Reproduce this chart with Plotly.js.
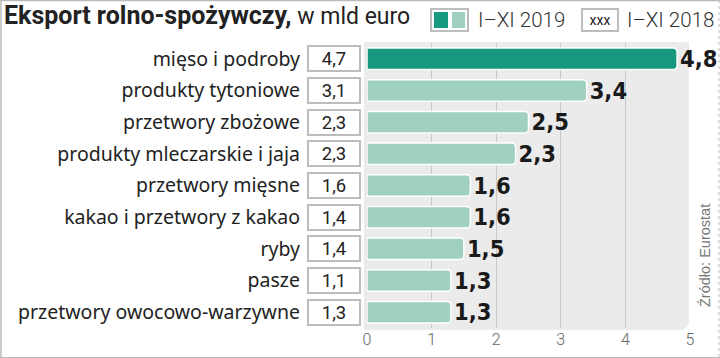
<!DOCTYPE html>
<html><head><meta charset="utf-8">
<script src="https://cdn.plot.ly/plotly-3.0.1.min.js"></script>
<style>html,body{margin:0;padding:0;background:#fff}#chart{width:720px;height:358px}</style>
</head><body><div id="chart"></div>
<script>
const categories = ["mięso i podroby","produkty tytoniowe","przetwory zbożowe","produkty mleczarskie i jaja","przetwory mięsne","kakao i przetwory z kakao","ryby","pasze","przetwory owocowo-warzywne"];
const values2019 = [4.8,3.4,2.5,2.3,1.6,1.6,1.5,1.3,1.3];
const values2018 = [4.7,3.1,2.3,2.3,1.6,1.4,1.4,1.1,1.3];
const xTicks = [0,1,2,3,4,5];
const titleBold = "Eksport rolno-spożywczy,";
const titleRest = " w mld euro";
const legend2019 = "I–XI 2019";
const legend2018 = "I–XI 2018";
const sourceText = "Źródło: Eurostat";

const W = 720, H = 358, ML = 367, MR = 30, MT = 43, MB = 30;
const PW = W - ML - MR, PH = H - MT - MB;
const px = v => (v - ML) / PW;
const py = v => (H - MB - v) / PH;

const dark = "#17997f", light = "#9fd0c2";
const colors = values2019.map((v, i) => i === 0 ? dark : light);

const trace = {
  type: "bar", orientation: "h",
  y: categories, x: values2019,
  marker: {color: colors, line: {color: "#ffffff", width: 1.5}, cornerradius: 4},
  width: 0.68,
  text: values2019.map(v => v.toFixed(1).replace(".", ",")),
  textposition: "outside",
  constraintext: "none",
  textfont: {family: "DejaVu Sans Condensed, DejaVu Sans", size: 23.5, color: "#1a1a1a", weight: "bold"},
  cliponaxis: false,
  hoverinfo: "none"
};

const boxes = categories.map((c, i) => ({
  xref: "paper", yref: "y", x: px(334), y: c, xanchor: "center", yanchor: "middle",
  text: values2018[i].toFixed(1).replace(".", ","),
  showarrow: false, width: 48, height: 21,
  bgcolor: "#ffffff", bordercolor: "#bdbdbd", borderwidth: 2, borderpad: 1,
  font: {family: "Roboto", size: 18.5, color: "#222"}
}));

const r = 10;
const x0 = px(364), x1 = px(689), y0 = py(42), y1 = py(330);
const rx = r / PW, ry = r / PH;
const shapes = [
  {type: "path", xref: "paper", yref: "paper", layer: "below",
   path: `M ${x0} ${y0} L ${x1} ${y0} L ${x1} ${y1 + ry} Q ${x1} ${y1} ${x1 - rx} ${y1} L ${x0} ${y1} Z`,
   fillcolor: "#ebebeb", line: {width: 0}},
  // legend box 2019
  {type: "rect", xref: "paper", yref: "paper", x0: px(431), x1: px(468), y0: py(9), y1: py(31),
   fillcolor: "#fff", line: {color: "#bdbdbd", width: 2}},
  {type: "rect", xref: "paper", yref: "paper", x0: px(434), x1: px(448), y0: py(12), y1: py(28),
   fillcolor: dark, line: {width: 0}},
  {type: "rect", xref: "paper", yref: "paper", x0: px(452), x1: px(465), y0: py(12), y1: py(28),
   fillcolor: light, line: {width: 0}},
  // frame
  {type: "line", xref: "paper", yref: "paper", x0: px(0), x1: px(720), y0: py(0.5), y1: py(0.5), line: {color: "#bbb", width: 1.5}},
  {type: "line", xref: "paper", yref: "paper", x0: px(1), x1: px(1), y0: py(0), y1: py(358), line: {color: "#bbb", width: 1.5}},
  {type: "line", xref: "paper", yref: "paper", x0: px(719), x1: px(719), y0: py(0), y1: py(358), line: {color: "#bbb", width: 1, dash: "dot"}},
  {type: "line", xref: "paper", yref: "paper", x0: px(0), x1: px(720), y0: py(357.5), y1: py(357.5), line: {color: "#bbb", width: 1}}
];

const annotations = boxes.concat([
  {xref: "paper", yref: "paper", x: px(2), y: py(16), xanchor: "left", yanchor: "middle", showarrow: false,
   text: `<b>${titleBold}</b><span style="font-size:23px">${titleRest}</span>`, font: {family: "Roboto", size: 25, color: "#222"}},
  {xref: "paper", yref: "paper", x: px(476), y: py(20), xanchor: "left", yanchor: "middle", showarrow: false,
   text: legend2019, font: {family: "Roboto", size: 20.5, color: "#333", weight: 300}},
  {xref: "paper", yref: "paper", x: px(600), y: py(20), xanchor: "center", yanchor: "middle", showarrow: false,
   text: "xxx", width: 32, height: 18, bgcolor: "#fff", bordercolor: "#bdbdbd", borderwidth: 2, borderpad: 1,
   font: {family: "Roboto", size: 14, color: "#222"}},
  {xref: "paper", yref: "paper", x: px(625), y: py(20), xanchor: "left", yanchor: "middle", showarrow: false,
   text: legend2018, font: {family: "Roboto", size: 20.5, color: "#333", weight: 300}},
  {xref: "paper", yref: "paper", x: px(705), y: py(256), xanchor: "center", yanchor: "middle", showarrow: false,
   text: sourceText, textangle: -90, font: {family: "Liberation Sans", size: 14.5, color: "#777"}}
]);

const layout = {
  width: W, height: H,
  margin: {l: ML, r: MR, t: MT, b: MB, pad: 0},
  paper_bgcolor: "#fff", plot_bgcolor: "rgba(0,0,0,0)",
  separators: ", ",
  showlegend: false,
  bargap: 0.32,
  xaxis: {range: [0, 5], tickvals: xTicks, ticktext: xTicks.map(String), showgrid: true, gridcolor: "#c8c8c8", gridwidth: 1,
          zeroline: false, showline: false, ticks: "", fixedrange: true,
          tickfont: {family: "Roboto", size: 16, color: "#666", weight: 300}},
  yaxis: {type: "category", autorange: "reversed", showgrid: false, zeroline: false, showline: false, ticks: "",
          ticklabelstandoff: 66,
          tickfont: {family: "Noto Sans", size: 19.5, color: "#222"}},
  shapes: shapes, annotations: annotations
};

Plotly.newPlot("chart", [trace], layout, {staticPlot: true, displayModeBar: false});
</script></body></html>
